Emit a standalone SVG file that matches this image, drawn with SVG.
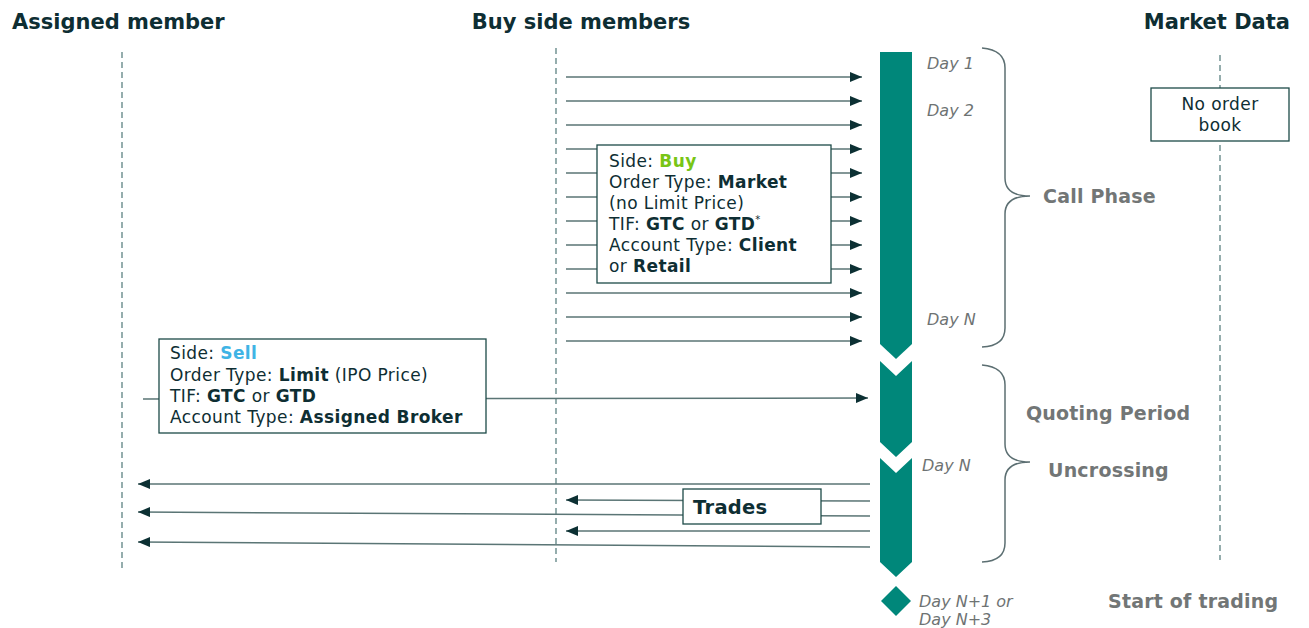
<svg xmlns="http://www.w3.org/2000/svg" width="1309" height="628" viewBox="0 0 1309 628">
<defs>
<style>
text{font-family:"DejaVu Sans","Liberation Sans",sans-serif;fill:#0e2e33}
.hdr{font-size:21px;font-weight:bold}
.body{font-size:17px;letter-spacing:0.4px}
.b{font-weight:bold}
.day{font-size:16px;font-style:italic;fill:#6e7373}
.phase{font-size:19px;font-weight:bold;fill:#727676;letter-spacing:0.2px}
.life{stroke:#4f7777;stroke-width:1.2;stroke-dasharray:6 4;fill:none}
.msg{stroke:#5a7575;stroke-width:1.5;fill:none;marker-end:url(#ah)}
.box{fill:#fff;stroke:#1d4a48;stroke-width:1.3}
.bar{fill:#00877a}
.brace{fill:none;stroke:#5c6f72;stroke-width:1.5}
</style>
<marker id="ah" viewBox="0 0 12 10" refX="12" refY="5" markerWidth="12" markerHeight="10" markerUnits="userSpaceOnUse" orient="auto">
<path d="M0,0 L12,5 L0,10 Z" fill="#0c3033"/>
</marker>
</defs>
<rect width="1309" height="628" fill="#fff"/>

<g id="headers">
<text class="hdr" x="12" y="29">Assigned member</text>
<text class="hdr" x="581" y="29" text-anchor="middle">Buy side members</text>
<text class="hdr" x="1290" y="29" text-anchor="end">Market Data</text>
</g>

<g id="lifelines">
<line class="life" x1="122" y1="52" x2="122" y2="568"/>
<line class="life" x1="556" y1="48" x2="556" y2="562"/>
<line class="life" x1="1220" y1="55" x2="1220" y2="560"/>
</g>

<g id="timeline">
<polygon class="bar" points="880,52 912,52 912,344 896,359 880,344"/>
<polygon class="bar" points="880,361 896,376 912,361 912,442 896,457 880,442"/>
<polygon class="bar" points="880,458 896,473 912,458 912,562 896,577 880,562"/>
<polygon class="bar" points="896,586 911,601 896,616 881,601"/>
</g>

<g id="braces">
<path class="brace" d="M982,48 Q1005,50 1005,68 L1005,178 Q1005,196 1030,196 Q1005,196 1005,214 L1005,328 Q1005,346 982,347"/>
<path class="brace" d="M982,365 Q1005,367 1005,385 L1005,444 Q1005,462 1030,462 Q1005,462 1005,480 L1005,543 Q1005,561 982,562"/>
</g>

<g id="connectors">
<line class="msg" x1="566" y1="77" x2="862" y2="77"/>
<line class="msg" x1="566" y1="101" x2="862" y2="101"/>
<line class="msg" x1="566" y1="125" x2="862" y2="125"/>
<line class="msg" x1="566" y1="149" x2="862" y2="149"/>
<line class="msg" x1="566" y1="173" x2="862" y2="173"/>
<line class="msg" x1="566" y1="197" x2="862" y2="197"/>
<line class="msg" x1="566" y1="221" x2="862" y2="221"/>
<line class="msg" x1="566" y1="245" x2="862" y2="245"/>
<line class="msg" x1="566" y1="269" x2="862" y2="269"/>
<line class="msg" x1="566" y1="293" x2="862" y2="293"/>
<line class="msg" x1="566" y1="317" x2="862" y2="317"/>
<line class="msg" x1="566" y1="341" x2="862" y2="341"/>
<line class="msg" x1="143" y1="399" x2="868" y2="398"/>
<line class="msg" x1="870" y1="484" x2="138" y2="484"/>
<line class="msg" x1="870" y1="501" x2="566" y2="500"/>
<line class="msg" x1="870" y1="516" x2="138" y2="512"/>
<line class="msg" x1="870" y1="531" x2="566" y2="531"/>
<line class="msg" x1="870" y1="547" x2="138" y2="542"/>
</g>

<g id="buy-order">
<rect class="box" x="597" y="145" width="234" height="138"/>
<text class="body" x="609" y="167">Side: <tspan class="b" style="fill:#78c515">Buy</tspan></text>
<text class="body" x="609" y="188">Order Type: <tspan class="b">Market</tspan></text>
<text class="body" x="609" y="209">(no Limit Price)</text>
<text class="body" x="609" y="230">TIF: <tspan class="b">GTC</tspan> or <tspan class="b">GTD</tspan><tspan font-size="10" dy="-7">*</tspan></text>
<text class="body" x="609" y="251">Account Type: <tspan class="b">Client</tspan></text>
<text class="body" x="609" y="272">or <tspan class="b">Retail</tspan></text>
</g>

<g id="sell-order">
<rect class="box" x="159" y="339" width="327" height="94"/>
<text class="body" x="170" y="359">Side: <tspan class="b" style="fill:#3fb4e5">Sell</tspan></text>
<text class="body" x="170" y="381">Order Type: <tspan class="b">Limit</tspan> (IPO Price)</text>
<text class="body" x="170" y="402">TIF: <tspan class="b">GTC</tspan> or <tspan class="b">GTD</tspan></text>
<text class="body" x="170" y="423">Account Type: <tspan class="b">Assigned Broker</tspan></text>
</g>

<g id="trades">
<rect class="box" x="683" y="489" width="138" height="35"/>
<text x="693" y="514" font-size="19.5" font-weight="bold" letter-spacing="0.3">Trades</text>
</g>

<g id="no-order-book">
<rect class="box" x="1151" y="88" width="138" height="53"/>
<text class="body" x="1220" y="110" text-anchor="middle">No order</text>
<text class="body" x="1220" y="131" text-anchor="middle">book</text>
</g>

<g id="day-labels">
<text class="day" x="927" y="69">Day 1</text>
<text class="day" x="927" y="116">Day 2</text>
<text class="day" x="927" y="325">Day N</text>
<text class="day" x="922" y="471">Day N</text>
<text class="day" x="919" y="607">Day N+1 or</text>
<text class="day" x="919" y="625">Day N+3</text>
</g>

<g id="phases">
<text class="phase" x="1043" y="203">Call Phase</text>
<text class="phase" x="1026" y="420">Quoting Period</text>
<text class="phase" x="1048" y="477">Uncrossing</text>
<text class="phase" x="1108" y="608" letter-spacing="1.2">Start of trading</text>
</g>
</svg>
